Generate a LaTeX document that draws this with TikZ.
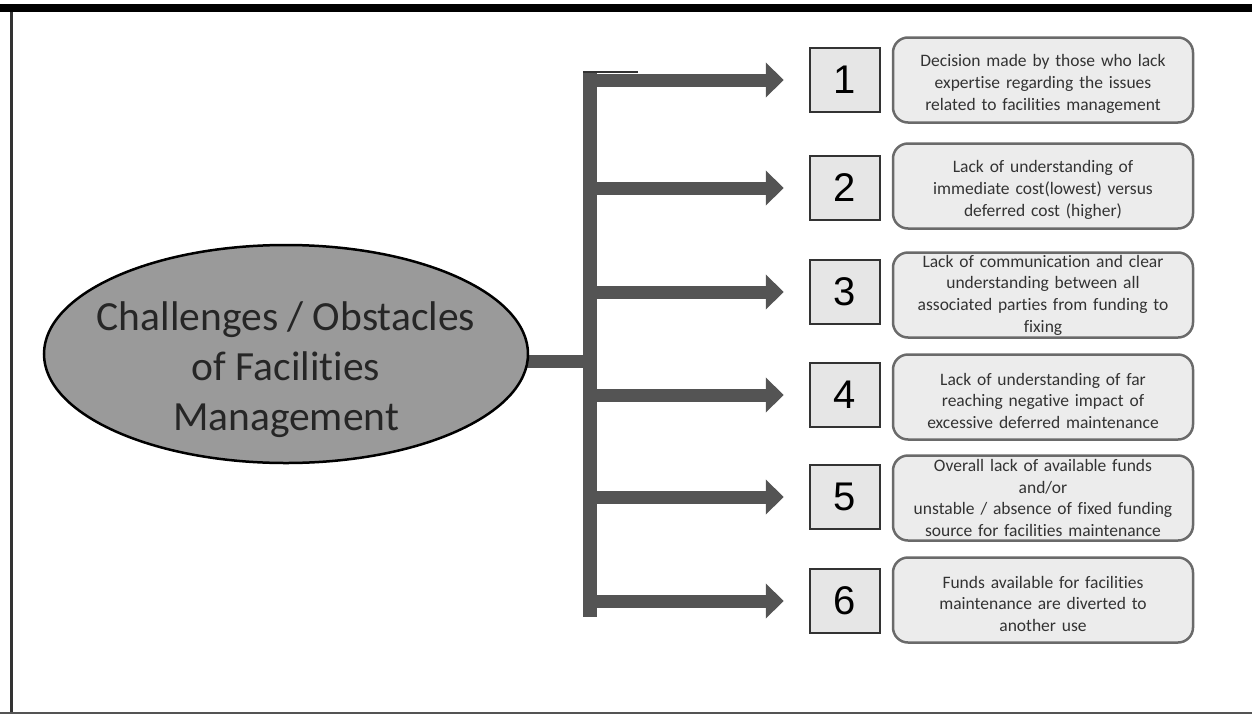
\documentclass[tikz,border=0pt]{standalone}
\usepackage{fontspec}
\setmainfont[Ligatures=NoCommon]{Carlito}
\newfontfamily\numfont{Liberation Sans}
\usetikzlibrary{shapes.geometric,arrows.meta}
\definecolor{barcol}{HTML}{545454}
\definecolor{hubfill}{HTML}{9A9A9A}
\definecolor{numfill}{HTML}{E6E6E6}
\definecolor{txtfill}{HTML}{ECECEC}
\definecolor{txtdraw}{HTML}{6A6A6A}
\definecolor{dark}{HTML}{333333}
\newcommand{\lowertext}{\rule{0pt}{20pt}}
\tikzset{
  hubshape/.style={ellipse, draw=black, line width=2.5pt, fill=hubfill, minimum width=484pt, minimum height=218pt, inner sep=0pt},
  hubtext/.style={align=center, inner sep=0pt, text=black!85, font=\fontsize{41.5}{50}\selectfont},
  numbox/.style={draw=dark, line width=2.5pt, fill=numfill, minimum width=70pt, minimum height=64pt, inner sep=0pt, font=\numfont\fontsize{40}{44}\selectfont},
  txtbox/.style={rounded corners=15pt, draw=txtdraw, line width=2.5pt, fill=txtfill, minimum width=300pt, minimum height=85pt, text width=298pt, align=center, inner sep=0pt, text=dark, font=\fontsize{17.5}{21.7}\selectfont},
  barline/.style={draw=barcol, line width=14pt},
  hline/.style={draw=barcol, line width=13pt},
  branch/.style={draw=barcol, line width=13pt, -{Triangle[length=18pt,width=34pt]}, shorten >=25pt},
}
\begin{document}
\begin{tikzpicture}[x=1pt,y=-1pt]
\useasboundingbox (0,0) rectangle (1252,715);
% frame
\fill[black] (0,4) rectangle (1252,12);
\draw[dark, line width=3pt] (11.5,12) -- (11.5,713);
\draw[barcol, line width=2pt] (0,713) -- (1252,713);

% number boxes and text boxes
\node[numbox] (n1) at (845,80) {1};
\node[numbox] (n2) at (845,188) {2};
\node[numbox] (n3) at (845,292) {3};
\node[numbox] (n4) at (845,395) {4};
\node[numbox] (n5) at (845,497) {5};
\node[numbox] (n6) at (845,601) {6};

\node[txtbox] (t1) at (1043,80) {\lowertext Decision made by those who lack\\expertise regarding the issues\\related to facilities management};
\node[txtbox] (t2) at (1043,186) {\lowertext Lack of understanding of\\immediate cost(lowest) versus\\deferred cost (higher)};
\node[txtbox] (t3) at (1043,295) {Lack of communication and clear\\understanding between all\\associated parties from funding to\\fixing};
\node[txtbox] (t4) at (1043,397) {\lowertext Lack of understanding of far\\reaching negative impact of\\excessive deferred maintenance};
\node[txtbox] (t5) at (1043,498) {Overall lack of available funds\\and/or\\unstable / absence of fixed funding\\source for facilities maintenance};
\node[txtbox] (t6) at (1043,600) {\lowertext Funds available for facilities\\maintenance are diverted to\\another use};

% trunk coordinates
\coordinate (top) at (590,72);
\coordinate (bot) at (590,617);
\coordinate (jn) at (590,361);
\foreach \i in {1,...,6} {
  \coordinate (b\i) at (top |- n\i);
  \draw[branch] (b\i) -- (n\i.west);
}
\draw[hline] (286,361) -- (jn);
\draw[barline] (top) -- (bot);
\draw[dark, line width=2pt] (583,72) -- (638,72);

% hub
\node[hubshape] (hub) at (286,354) {};
\node[hubtext] (hubt) at (286,370) {Challenges / Obstacles\\of Facilities\\Management};
\end{tikzpicture}
\end{document}
